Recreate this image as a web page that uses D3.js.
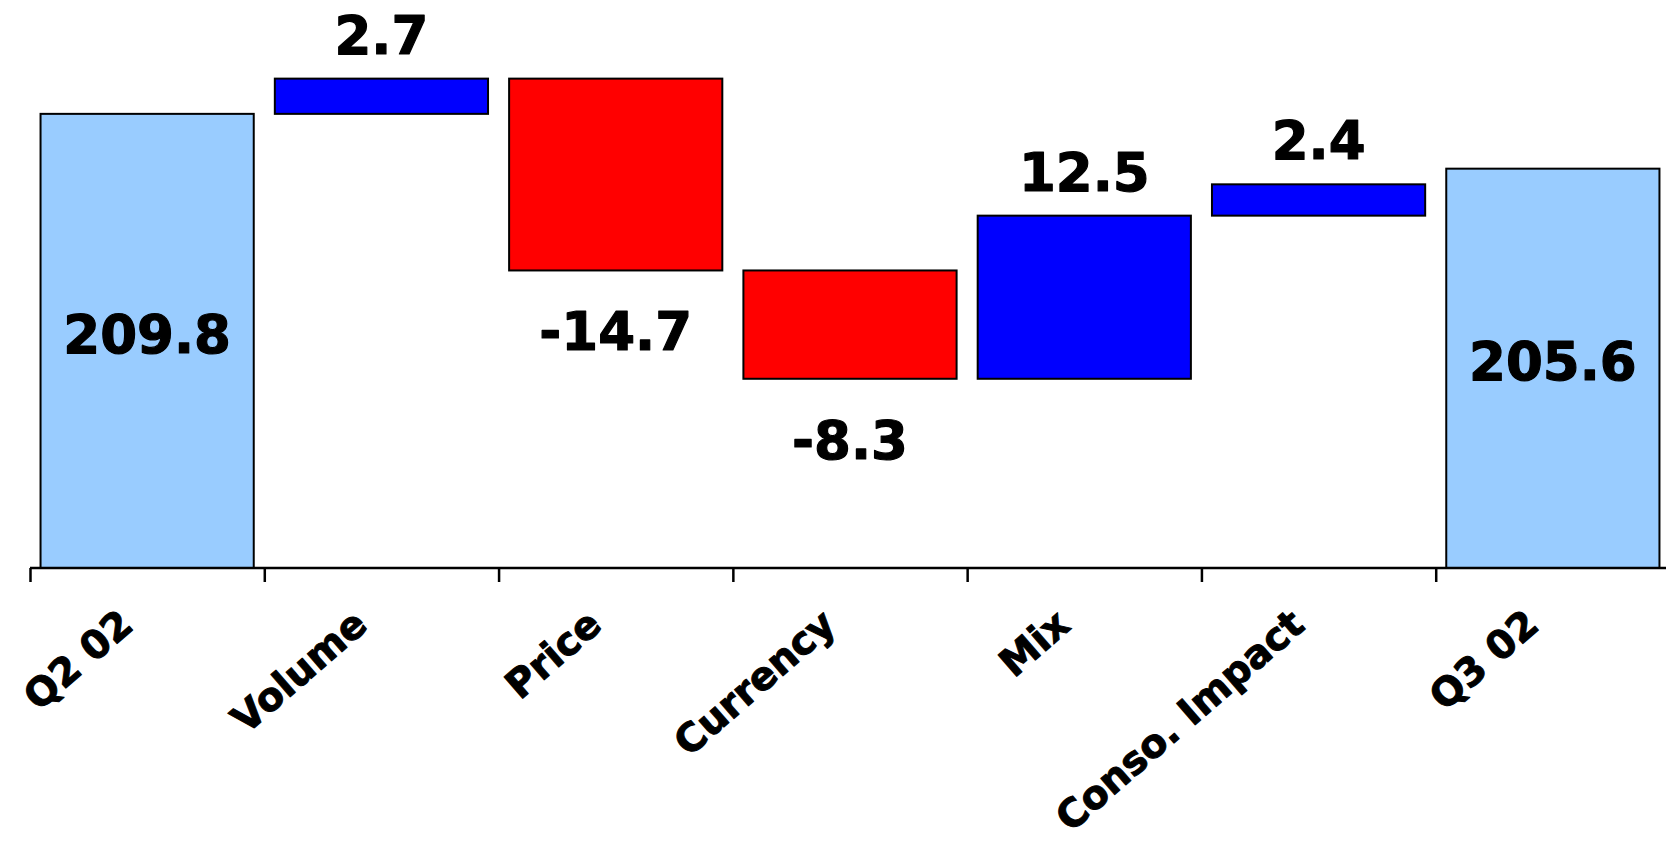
<!DOCTYPE html>
<html>
<head>
<meta charset="utf-8">
<script src="https://cdn.jsdelivr.net/npm/d3@7/dist/d3.min.js"></script>
<style>
  html, body { margin: 0; padding: 0; background: #ffffff; }
  svg { display: block; }
  text { font-family: "DejaVu Sans", Verdana, sans-serif; font-weight: bold; fill: #000; stroke: #000; stroke-linejoin: round; }
</style>
</head>
<body>
<svg id="chart" width="1666" height="844"></svg>
<script>
// Quarter-on-quarter bridge: opening total, driver deltas, closing total
const categories = ["Q2 02", "Volume", "Price", "Currency", "Mix", "Conso. Impact", "Q3 02"];
const values     = [209.8, 2.7, -14.7, -8.3, 12.5, 2.4, 205.6];
const kinds      = ["total", "delta", "delta", "delta", "delta", "delta", "total"];
const valueLabels = ["209.8", "2.7", "-14.7", "-8.3", "12.5", "2.4", "205.6"];

const colors = { total: "#99ccff", up: "#0000ff", down: "#ff0000" };

const svg = d3.select("#chart");
const axisY = 568;

const x = d3.scaleBand()
  .domain(categories)
  .range([30, 1670])
  .paddingInner(0.09)
  .paddingOuter(0.045);

const y = d3.scaleLinear()
  .domain([175, 215])
  .range([axisY, axisY - 40 * 13.05]);

// Build the waterfall segments
let running = 0;
const bars = categories.map((c, i) => {
  const v = values[i];
  let lo, hi, color;
  if (kinds[i] === "total") {
    lo = y.domain()[0];
    hi = v;
    running = v;
    color = colors.total;
  } else {
    const start = running;
    running = start + v;
    lo = Math.min(start, running);
    hi = Math.max(start, running);
    color = v >= 0 ? colors.up : colors.down;
  }
  return { cat: c, value: v, kind: kinds[i], label: valueLabels[i], lo, hi, color };
});

svg.append("g")
  .selectAll("rect")
  .data(bars)
  .join("rect")
  .attr("x", d => x(d.cat))
  .attr("width", x.bandwidth())
  .attr("y", d => y(d.hi))
  .attr("height", d => y(d.lo) - y(d.hi))
  .attr("fill", d => d.color)
  .attr("stroke", "#000")
  .attr("stroke-width", 2);

// Axis: baseline with ticks on category boundaries
const half = (x.step() - x.bandwidth()) / 2;
const boundaries = categories.map(c => x(c) - half);
const axis = d3.axisBottom(d3.scaleLinear().domain([0, 1666]).range([0, 1666]))
  .tickValues(boundaries)
  .tickSize(14)
  .tickSizeOuter(0)
  .tickFormat("");
const axisG = svg.append("g")
  .attr("transform", `translate(0,${axisY})`)
  .call(axis);
axisG.select(".domain")
  .attr("d", `M${boundaries[0]},0H1666`)
  .attr("stroke", "#000")
  .attr("stroke-width", 2.5);
axisG.selectAll(".tick line").attr("stroke", "#000").attr("stroke-width", 2.5);

// Category labels, slanted
svg.append("g")
  .selectAll("text")
  .data(categories)
  .join("text")
  .attr("transform", c => `translate(${x(c) + x.bandwidth() / 2 - 12},${axisY + 60}) rotate(-41)`)
  .attr("text-anchor", "end")
  .attr("font-size", 39)
  .attr("stroke-width", 1)
  .text(c => c);

// Value labels
svg.append("g")
  .selectAll("text")
  .data(bars)
  .join("text")
  .attr("x", d => x(d.cat) + x.bandwidth() / 2)
  .attr("y", d => {
    if (d.kind === "total") return (y(d.lo) + y(d.hi)) / 2 + 12;
    if (d.value >= 0) return y(d.hi) - 25;
    return y(d.lo) + 80;
  })
  .attr("text-anchor", "middle")
  .attr("font-size", 53)
  .attr("stroke-width", 1.2)
  .text(d => d.label);
</script>
</body>
</html>
